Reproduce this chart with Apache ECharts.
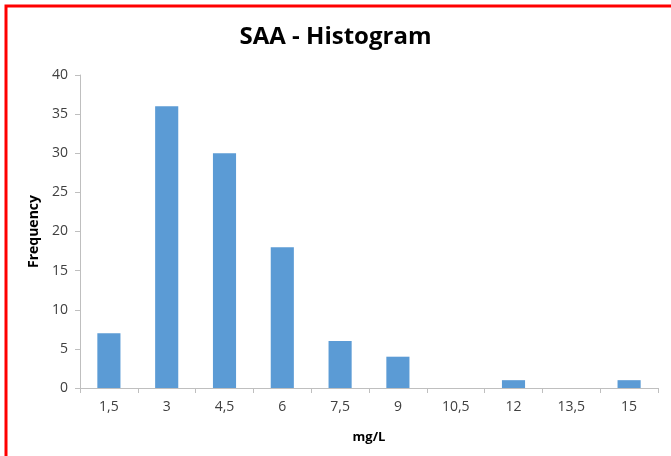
<!DOCTYPE html>
<html><head><meta charset="utf-8">
<script src="https://cdn.jsdelivr.net/npm/echarts@6/dist/echarts.min.js"></script>
<style>html,body{margin:0;padding:0;background:#fff}#c{width:671px;height:456px}</style>
</head><body><div id="c"></div>
<script>
const categories = ['1,5','3','4,5','6','7,5','9','10,5','12','13,5','15'];
const frequency = [7,36,30,18,6,4,0,1,0,1];
const yTicks = {min:0,max:40,interval:5};

const chart = echarts.init(document.getElementById('c'));
chart.setOption({
  animation:false,
  backgroundColor:'#fff',
  title:{text:'SAA - Histogram',left:'center',top:20,
    textStyle:{fontFamily:'Open Sans',fontWeight:'bold',fontSize:24,color:'#000'}},
  graphic:[{type:'rect',shape:{x:6,y:6,width:700,height:500},
    style:{fill:'none',stroke:'#ff0000',lineWidth:3},z:100}],
  grid:{left:80,right:13,top:75,bottom:68},
  xAxis:{type:'category',data:categories,
    name:'mg/L',nameLocation:'middle',nameGap:43,
    nameTextStyle:{fontFamily:'Open Sans',fontWeight:'bold',fontSize:13,color:'#000'},
    axisLine:{lineStyle:{color:'#bfbfbf'}},
    axisTick:{show:true,alignWithLabel:false,length:5,lineStyle:{color:'#bfbfbf'}},
    axisLabel:{fontFamily:'Open Sans',fontSize:14,color:'#404040',margin:12}},
  yAxis:{type:'value',min:yTicks.min,max:yTicks.max,interval:yTicks.interval,
    name:'Frequency',nameLocation:'middle',nameGap:38,
    nameTextStyle:{fontFamily:'Open Sans',fontWeight:'bold',fontSize:14,color:'#000'},
    axisLine:{show:true,lineStyle:{color:'#bfbfbf'}},
    axisTick:{show:true,length:5,lineStyle:{color:'#bfbfbf'}},
    splitLine:{show:false},
    axisLabel:{fontFamily:'Open Sans',fontSize:14,color:'#404040',margin:12}},
  series:[{type:'bar',data:frequency,barWidth:'40%',
    itemStyle:{color:'#5b9bd5'}}]
});
</script></body></html>
